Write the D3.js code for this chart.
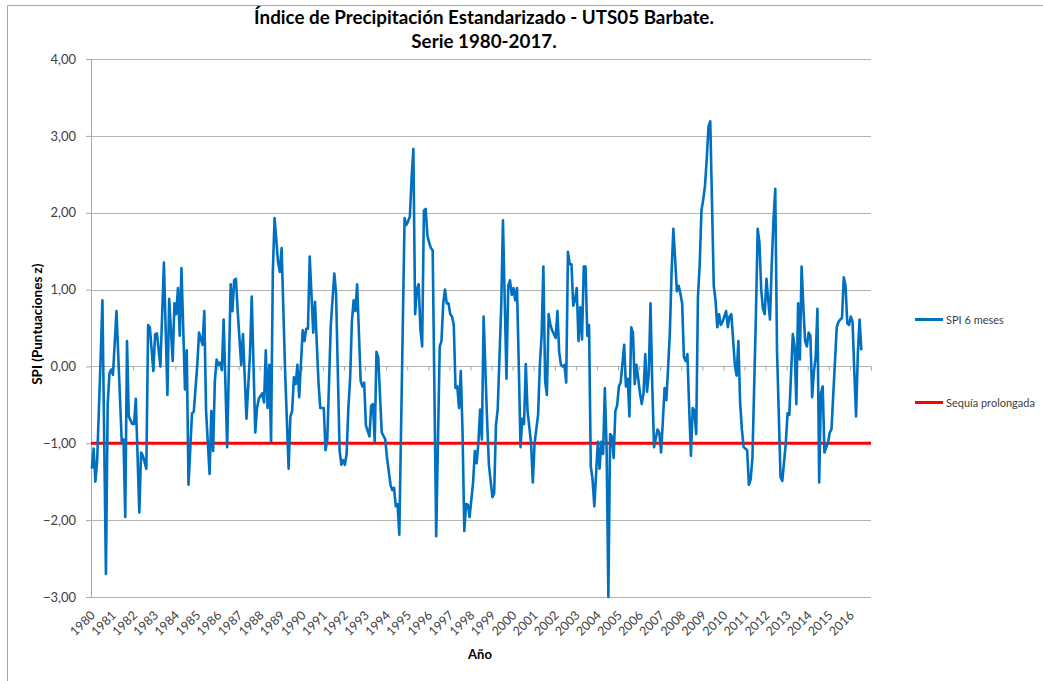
<!DOCTYPE html>
<html>
<head>
<meta charset="utf-8">
<script src="https://cdn.jsdelivr.net/npm/d3@7"></script>
<style>
    body { margin: 0; background: #fff; }
    svg text { font-family: Lato, "Open Sans", sans-serif; }
</style>
</head>
<body>
<div id="chart"></div>
<script>
// meses contados desde enero de 1980 (0 = ene 1980)
const meses = [
    0, 1, 2, 3, 5, 6, 8, 9, 10, 11, 12, 14, 17, 18, 19, 20, 21, 23, 24, 25, 27, 28, 29, 31, 32, 33, 35, 36, 37, 39,
    41, 43, 44, 46, 47, 48, 49, 50, 51, 53, 54, 55, 57, 58, 60, 61, 63, 64, 65, 67, 68, 69, 70, 71, 72, 73, 74, 75, 77, 79,
    80, 81, 82, 83, 85, 86, 88, 90, 91, 93, 94, 95, 97, 98, 99, 100, 101, 102, 103, 104, 106, 107, 108, 110, 112, 113, 114, 115, 116, 117,
    118, 120, 121, 122, 123, 124, 126, 127, 129, 130, 132, 133, 134, 136, 138, 139, 141, 142, 143, 144, 145, 146, 147, 148, 149, 150, 151, 153, 154, 155,
    156, 158, 159, 160, 161, 162, 163, 165, 167, 168, 170, 171, 172, 173, 174, 175, 178, 179, 180, 181, 182, 183, 184, 185, 186, 187, 188, 189, 190, 191,
    192, 193, 194, 196, 198, 199, 200, 201, 202, 203, 204, 205, 206, 207, 208, 209, 210, 211, 212, 213, 214, 215, 217, 218, 219, 220, 221, 222, 223, 225,
    226, 228, 229, 230, 231, 233, 234, 235, 236, 237, 238, 239, 240, 241, 242, 243, 244, 245, 246, 247, 248, 250, 251, 252, 254, 255, 256, 257, 258, 259,
    260, 261, 262, 264, 265, 266, 267, 268, 269, 270, 271, 272, 273, 274, 275, 276, 277, 278, 279, 280, 281, 282, 283, 284, 285, 286, 288, 289, 290, 291,
    292, 293, 294, 295, 296, 297, 298, 299, 300, 301, 303, 304, 305, 306, 307, 308, 309, 310, 311, 312, 313, 314, 315, 316, 317, 318, 319, 320, 322, 323,
    324, 325, 326, 327, 328, 329, 330, 331, 332, 333, 334, 335, 336, 337, 338, 339, 340, 341, 342, 343, 344, 345, 346, 347, 348, 349, 350, 351, 352, 354,
    355, 356, 357, 358, 359, 360, 361, 362, 363, 364, 366, 367, 368, 369, 370, 371, 373, 374, 375, 376, 378, 379, 380, 381, 382, 383, 384, 385, 386, 387,
    388, 389, 390, 392, 393, 395, 396, 397, 398, 399, 400, 401, 402, 403, 404, 405, 406, 407, 408, 409, 410, 411, 412, 413, 414, 415, 416, 417, 418, 419,
    420, 421, 424, 425, 426, 427, 428, 429, 430, 431, 432, 433, 434, 435, 436, 437, 438
];

// SPI 6 meses (puntuaciones z)
const spi = [
    -1.33, -1.07, -1.50, -1.23, 0.12, 0.86, -2.70, -0.49, -0.09, -0.04, -0.11, 0.72, -0.98, -0.95, -1.96, 0.33, -0.65, -0.75, -0.75, -0.42, -1.90, -1.12, -1.16, -1.33, 0.54, 0.51, -0.06, 0.42, 0.43, 0.00,
    1.35, -0.37, 0.88, 0.07, 0.82, 0.68, 1.02, 0.40, 1.28, -0.30, 0.21, -1.54, -0.61, -0.59, 0.02, 0.44, 0.28, 0.72, -0.58, -1.40, -0.58, -1.10, -0.19, 0.09, 0.02, 0.05, -0.05, 0.61, -1.05, 1.07,
    0.72, 1.12, 1.14, 0.72, 0.02, 0.42, -0.68, 0.16, 0.91, -0.86, -0.54, -0.42, -0.35, -0.47, 0.21, -0.54, 0.02, -0.98, 1.23, 1.93, 1.35, 1.23, 1.54, -0.07, -1.33, -0.65, -0.58, -0.14, -0.23, 0.02,
    -0.40, 0.47, 0.33, 0.49, 0.49, 1.43, 0.44, 0.84, -0.21, -0.54, -0.54, -1.09, -0.95, 0.54, 1.21, 0.95, -1.09, -1.28, -1.22, -1.28, -1.14, -0.54, -0.16, 0.58, 0.86, 0.72, 1.07, -0.19, -0.26, -0.21,
    -0.77, -0.91, -0.51, -0.49, -0.98, 0.19, 0.12, -0.86, -0.95, -1.19, -1.54, -1.61, -1.58, -1.82, -1.79, -2.19, 1.93, 1.84, 1.89, 1.95, 2.45, 2.83, 0.68, 1.00, 1.07, 0.49, 0.26, 2.03, 2.05, 1.70,
    1.61, 1.54, 1.51, -2.21, 0.26, 0.33, 0.82, 1.00, 0.82, 0.82, 0.68, 0.65, 0.54, -0.28, -0.26, -0.54, -0.06, -0.86, -2.14, -1.79, -1.80, -1.96, -1.51, -1.10, -1.26, -1.00, -0.56, -0.95, 0.65, -0.72,
    -1.28, -1.70, -1.65, -0.77, -0.56, 0.77, 1.90, 0.86, -0.16, 1.05, 1.12, 0.93, 1.02, 0.86, 1.02, 0.02, -1.05, -0.68, -0.75, 0.03, -0.58, -1.00, -1.51, -1.00, -0.63, 0.02, 0.40, 1.30, -0.19, -0.37,
    0.68, 0.54, 0.47, 0.37, 0.72, 0.19, 0.02, 0.00, 0.02, -0.21, 1.49, 1.33, 1.33, 0.79, 0.86, 1.02, 0.33, 0.77, 0.35, 1.30, 1.30, 0.40, 0.54, -1.30, -1.47, -1.82, -0.98, -1.33, -0.98, -1.14,
    -0.28, -1.07, -3.00, -0.88, -0.91, -1.19, -0.58, -0.51, -0.26, -0.21, 0.28, -0.26, -0.16, -0.65, 0.51, 0.44, -0.23, 0.02, -0.16, -0.35, -0.49, -0.35, 0.16, -0.33, -0.09, 0.82, -0.26, -1.05, -0.82, -0.86,
    -1.12, -0.72, -0.28, -0.44, -0.02, 0.44, 1.23, 1.79, 1.40, 0.98, 1.05, 0.95, 0.82, 0.12, 0.07, 0.16, -0.54, -1.16, -0.54, -0.58, -0.88, 0.91, 1.33, 2.03, 2.17, 2.35, 2.70, 3.12, 3.19, 1.05,
    0.86, 0.51, 0.68, 0.54, 0.58, 0.65, 0.72, 0.51, 0.65, 0.68, 0.02, -0.12, 0.33, -0.47, -0.82, -1.05, -1.09, -1.54, -1.47, -1.19, 0.68, 1.79, 1.61, 1.00, 0.75, 0.68, 1.14, 0.86, 0.61, 1.33,
    1.91, 2.31, 0.21, -1.44, -1.49, -1.00, -0.61, -0.63, -0.09, 0.42, 0.26, -0.49, 0.82, 0.09, 1.30, 0.77, 0.33, 0.26, 0.44, 0.40, -0.40, -0.07, 0.12, 0.75, -1.51, -0.35, -0.26, -1.12, -1.05, -1.00,
    -0.86, -0.82, 0.51, 0.58, 0.61, 0.63, 1.16, 1.05, 0.56, 0.54, 0.65, 0.58, -0.07, -0.65, 0.16, 0.61, 0.21
];

const anios = [1980, 1981, 1982, 1983, 1984, 1985, 1986, 1987, 1988, 1989, 1990, 1991, 1992, 1993, 1994, 1995, 1996, 1997, 1998,
    1999, 2000, 2001, 2002, 2003, 2004, 2005, 2006, 2007, 2008, 2009, 2010, 2011, 2012, 2013, 2014, 2015, 2016];
const yTicks = [-3, -2, -1, 0, 1, 2, 3, 4];
const umbralSequia = -1;   // sequia prolongada
const totalMeses = 444;    // 37 años de categorias en el eje

const width = 1043, height = 681;
const margin = {left: 91, right: 172, top: 59, bottom: 84};

const svg = d3.select("#chart").append("svg")
    .attr("width", width)
    .attr("height", height);

// borde del area del grafico
svg.append("rect")
    .attr("x", 7.5).attr("y", 5.5)
    .attr("width", 1100).attr("height", 800)
    .attr("fill", "none")
    .attr("stroke", "#a6a6a6");

const x = d3.scaleLinear()
    .domain([-0.5, totalMeses - 0.5])
    .range([margin.left, width - margin.right]);

const y = d3.scaleLinear()
    .domain([-3, 4])
    .range([height - margin.bottom, margin.top]);

const fmt = d => d3.format(".2f")(d).replace(".", ",");

// rejilla horizontal + eje Y
const yAxis = svg.append("g")
    .attr("transform", "translate(" + margin.left + ",0)")
    .call(d3.axisLeft(y)
        .tickValues(yTicks)
        .tickFormat(fmt)
        .tickSize(5)
        .tickPadding(10));
yAxis.select(".domain").attr("stroke", "#a6a6a6");
yAxis.selectAll(".tick line").attr("stroke", "#a6a6a6");
yAxis.selectAll(".tick text")
    .attr("fill", "#404040")
    .style("font-size", "13px");

svg.append("g")
    .selectAll("line")
    .data(yTicks)
    .enter()
    .append("line")
    .attr("x1", x.range()[0])
    .attr("x2", x.range()[1])
    .attr("y1", d => Math.round(y(d)) + 0.5)
    .attr("y2", d => Math.round(y(d)) + 0.5)
    .attr("stroke", "#b3b3b3");

// marcas del eje de categorias (sobre el 0)
const xAxis = svg.append("g")
    .attr("transform", "translate(0," + (Math.round(y(0)) + 0.5) + ")")
    .call(d3.axisBottom(x)
        .tickValues(d3.range(0, anios.length + 1).map(k => k * 12 - 0.5))
        .tickSize(4)
        .tickFormat(""));
xAxis.select(".domain").remove();
xAxis.selectAll(".tick line").attr("stroke", "#a6a6a6");

// etiquetas de años abajo, giradas
svg.append("g")
    .selectAll("text")
    .data(anios)
    .enter()
    .append("text")
    .attr("transform", (d, i) => "translate(" + (x(i * 12) + 4) + "," + (y(-3) + 19) + ") rotate(-45)")
    .attr("text-anchor", "end")
    .attr("fill", "#404040")
    .style("font-size", "12.5px")
    .text(d => d);

// linea de sequia prolongada
svg.append("line")
    .attr("x1", x.range()[0])
    .attr("x2", x.range()[1])
    .attr("y1", y(umbralSequia))
    .attr("y2", y(umbralSequia))
    .attr("stroke", "#ff0000")
    .attr("stroke-width", 3);

// serie SPI 6 meses
const serie = meses.map((m, i) => ({mes: m, valor: spi[i]}));
svg.append("path")
    .datum(serie)
    .attr("fill", "none")
    .attr("stroke", "#0070c0")
    .attr("stroke-width", 2.6)
    .attr("stroke-linejoin", "round")
    .attr("d", d3.line()
        .x(d => x(d.mes))
        .y(d => y(d.valor)));

// titulo
const titulo = svg.append("text")
    .attr("x", 484)
    .attr("text-anchor", "middle")
    .attr("fill", "#000")
    .style("font-size", "18.8px")
    .style("font-weight", "bold");
titulo.append("tspan").attr("x", 484).attr("y", 24).text("Índice de Precipitación Estandarizado - UTS05 Barbate.");
titulo.append("tspan").attr("x", 484).attr("y", 48).text("Serie 1980-2017.");

// titulos de ejes
svg.append("text")
    .attr("transform", "translate(42," + y(0.55) + ") rotate(-90)")
    .attr("text-anchor", "middle")
    .attr("fill", "#000")
    .style("font-size", "13.5px")
    .style("font-weight", "bold")
    .text("SPI (Puntuaciones z)");

svg.append("text")
    .attr("x", 480)
    .attr("y", 659)
    .attr("text-anchor", "middle")
    .attr("fill", "#000")
    .style("font-size", "13px")
    .style("font-weight", "bold")
    .text("Año");

// leyenda
const leyenda = [
    {nombre: "SPI 6 meses", color: "#0070c0", yy: 319.5},
    {nombre: "Sequía prolongada", color: "#ff0000", yy: 402.5}
];
const lg = svg.append("g")
    .selectAll("g")
    .data(leyenda)
    .enter()
    .append("g");
lg.append("line")
    .attr("x1", 915).attr("x2", 943)
    .attr("y1", d => d.yy).attr("y2", d => d.yy)
    .attr("stroke", d => d.color)
    .attr("stroke-width", 3);
lg.append("text")
    .attr("x", 946)
    .attr("y", d => d.yy + 4)
    .attr("fill", "#404040")
    .style("font-size", "11px")
    .text(d => d.nombre);
</script>
</body>
</html>
